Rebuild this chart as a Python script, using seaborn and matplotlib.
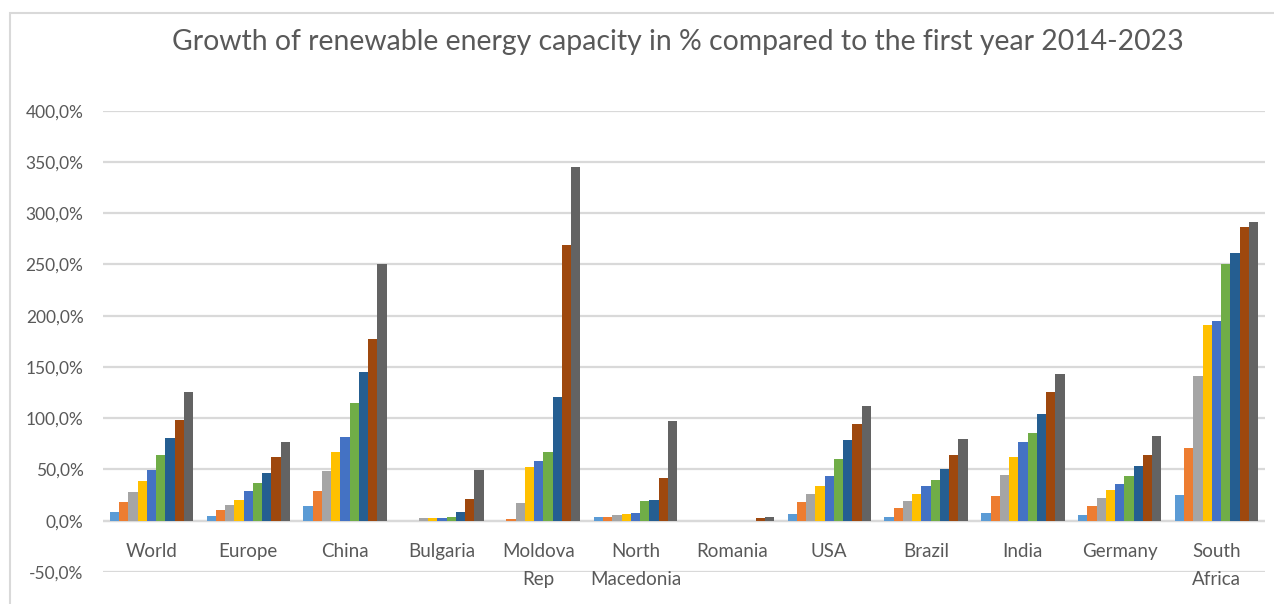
import matplotlib
matplotlib.use("Agg")
import matplotlib.pyplot as plt
from matplotlib.patches import Rectangle
from matplotlib.ticker import FuncFormatter
import numpy as np
import pandas as pd
import seaborn as sns

# Regions shown on the x axis
regions = ["World", "Europe", "China", "Bulgaria", "Moldova\nRep",
           "North\nMacedonia", "Romania", "USA", "Brazil", "India",
           "Germany", "South\nAfrica"]

# Years compared against the 2014 base year
years = ["2015", "2016", "2017", "2018", "2019", "2020", "2021", "2022", "2023"]

# Growth of renewable capacity (%) versus 2014, one list per region
world = [8.5, 18.5, 28.5, 38.5, 49.5, 64.5, 81.0, 98.5, 126.0]
europe = [4.5, 10.5, 15.5, 20.5, 29.5, 37.0, 47.0, 62.0, 77.0]
china = [14.5, 29.5, 49.0, 67.0, 82.0, 115.0, 145.0, 177.5, 250.5]
bulgaria = [0.0, 0.0, 3.0, 3.0, 3.0, 4.0, 9.0, 21.0, 49.5]
moldova = [0.0, 1.5, 17.0, 52.0, 58.5, 67.0, 121.0, 269.0, 345.5]
north_macedonia = [4.0, 4.0, 5.5, 6.5, 8.0, 19.0, 20.5, 42.0, 97.0]
romania = [0.0, 0.0, 0.0, 0.0, 0.0, 0.0, 0.0, 3.0, 4.0]
usa = [6.5, 18.0, 26.5, 34.0, 44.0, 60.5, 79.0, 94.0, 112.0]
brazil = [3.5, 12.5, 19.0, 26.5, 34.0, 40.0, 50.0, 64.0, 80.0]
india = [7.5, 24.0, 45.0, 62.5, 76.5, 85.5, 104.0, 125.5, 143.0]
germany = [6.0, 14.0, 22.5, 30.0, 36.0, 44.0, 53.0, 64.0, 83.0]
south_africa = [25.5, 70.5, 141.0, 191.0, 195.0, 250.0, 261.5, 286.5, 291.5]

y_ticks = [-50, 0, 50, 100, 150, 200, 250, 300, 350, 400]

title_text = "Growth of renewable energy capacity in % compared to the first year 2014-2023"

series_by_region = [world, europe, china, bulgaria, moldova, north_macedonia,
                    romania, usa, brazil, india, germany, south_africa]

rows = []
for region, vals in zip(regions, series_by_region):
    for year, v in zip(years, vals):
        rows.append({"region": region, "year": year, "growth": v})
df = pd.DataFrame(rows)

palette = ["#5B9BD5", "#ED7D31", "#A5A5A5", "#FFC000", "#4472C4",
           "#70AD47", "#255E91", "#9E480E", "#636363"]
text_color = "#595959"
grid_color = "#D9D9D9"

sns.set_theme(style="white")
plt.rcParams["font.family"] = ["Lato", "DejaVu Sans"]

W, H = 1274, 604
fig = plt.figure(figsize=(W / 100, H / 100), dpi=100)
fig.patch.set_facecolor("white")

# Chart area outline (runs off the right and bottom edges)
fig.patches.append(Rectangle((10 / W, -0.1), 1.2, 1 - 13 / H + 0.1,
                             transform=fig.transFigure, fill=False,
                             edgecolor=grid_color, linewidth=1.5))

left, right = 103 / W, 1265 / W
bottom, top = 1 - 572 / H, 1 - 110.7 / H
ax = fig.add_axes([left, bottom, right - left, top - bottom])

ax.set_ylim(-50, 400)
ax.set_yticks(y_ticks)
ax.yaxis.grid(True, color=grid_color, linewidth=1.6)
ax.set_axisbelow(True)

sns.barplot(data=df, x="region", y="growth", hue="year", palette=palette,
            width=0.86, saturation=1, legend=False, linewidth=0, ax=ax,
            errorbar=None)

ax.set_xlim(-0.5, len(regions) - 0.5)
ax.set_ylim(-50, 400)
ax.axhline(0, color=grid_color, linewidth=1.6, zorder=0.5)

for s in ax.spines.values():
    s.set_visible(False)

ax.set_xlabel("")
ax.set_ylabel("")
ax.set_xticks([])
ax.yaxis.set_major_formatter(FuncFormatter(lambda v, p: f"{v:.1f}%".replace(".", ",")))
ax.tick_params(axis="y", length=0, pad=14, labelsize=12.5, labelcolor=text_color)

# Region names sit between the zero line and the -50 % line
for i, name in enumerate(regions):
    ax.text(i, -22.0, name, ha="center", va="top", fontsize=13.5,
            color=text_color, linespacing=1.8)

t = fig.text(678 / W, 1 - 42 / H, title_text, ha="center", va="center",
             fontsize=20, color=text_color)

# Scale the title so its width spans the heading area
fig.canvas.draw()
r = fig.canvas.get_renderer()
w = t.get_window_extent(r).width
t.set_fontsize(20 * 1010 / w)

fig.savefig("out.png", dpi=100, facecolor="white")
